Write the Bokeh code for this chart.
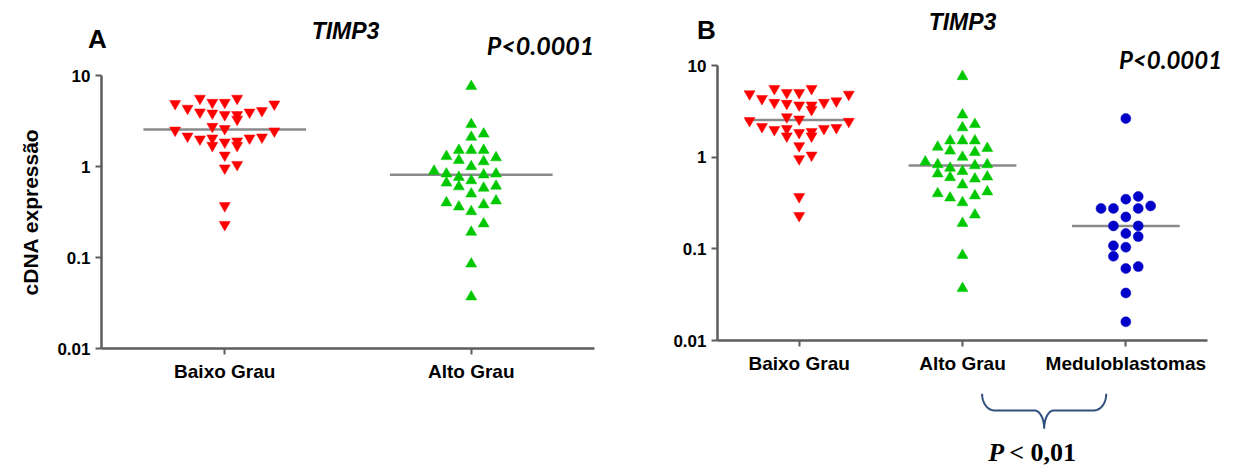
import numpy as np
from bokeh.plotting import figure
from bokeh.layouts import row, column
from bokeh.models import Range1d, FixedTicker, Label
from bokeh.embed import file_html
from bokeh.resources import INLINE

# ---- data -------------------------------------------------------------
groups = ["Baixo Grau", "Alto Grau", "Meduloblastomas"]

baixo_grau = [4.9, 4.35, 5.6, 5.05, 5.05, 5.6, 4.85,
              3.95, 3.85, 3.7, 3.7, 3.3, 3.95, 4.1,
              2.75, 2.6, 2.5, 2.45,
              2.15, 2.0, 2.05, 1.7, 1.85, 1.9, 1.7, 2.05, 2.1,
              1.33, 0.96, 1.05, 0.37, 0.23]
baixo_slot = [-4, -3, -2, -1, 0, 1, 4,
              -2, -1, 0, 1, 1, 2, 3,
              -1, 0, -4, 4,
              -3, -2, -1, -1, 0, 1, 1, 2, 3,
              0, 0, 1, 0, 0]

alto_grau = [7.6, 2.9, 2.1, 2.28,
             1.29, 1.51, 1.51, 1.51, 1.25,
             1.17, 1.13, 1.0, 0.89,
             0.83, 0.76, 0.81, 0.83,
             0.66, 0.6, 0.7, 0.58, 0.61, 0.5,
             0.4, 0.36, 0.32, 0.38, 0.42,
             0.235, 0.19, 0.085, 0.037]
alto_slot = [0, 0, 0, 1,
             -2, -1, 0, 1, 2,
             -1, 1, 0, -3,
             -2, -1, 1, 2,
             -2, -1, 0, 1, 2, 0,
             -2, -1, 0, 1, 2,
             1, 0, 0, 0]

meduloblastomas = [2.64, 0.348, 0.373, 0.276, 0.276, 0.276, 0.294, 0.223,
                   0.178, 0.178, 0.147, 0.136, 0.108, 0.104, 0.083,
                   0.061, 0.064, 0.033, 0.016]
medulo_slot = [0, 0, 1, -2, -1, 1, 2, 0,
               -1, 1, 0, 1, -1, 0, -1,
               0, 1, 0, 0]

medians = [2.55, 0.81, 0.178]

y_ticks = [0.01, 0.1, 1, 10]
y_tick_labels = ["0.01", "0.1", "1", "10"]
gene = "TIMP3"
p_text = "P<0.0001"

# ---- style ------------------------------------------------------------
SANS = "Liberation Sans"
AXIS_COLOR = "#5c5c5c"
MEDIAN_COLOR = "#8a8a8a"
series_style = [
    dict(marker="inverted_triangle", color="#ff0000", size=11),
    dict(marker="triangle", color="#00c800", size=11),
    dict(marker="circle", color="#0000c8", size=10),
]
SWARM_PX = 12.4      # horizontal spacing between swarm columns, pixels
HALF_MEDIAN = 0.33   # half length of the median bar, category widths
DECADE_PX = 91.5     # pixels per decade on the log axis

series = [(baixo_grau, baixo_slot), (alto_grau, alto_slot),
          (meduloblastomas, medulo_slot)]


def blank_figure(width, height, **kw):
    p = figure(width=width, height=height,
               x_axis_location=None, y_axis_location=None,
               output_backend="svg", toolbar_location=None,
               min_border_left=0, min_border_right=0,
               min_border_top=0, min_border_bottom=0, **kw)
    p.grid.visible = False
    p.outline_line_color = None
    p.border_fill_color = "white"
    p.background_fill_color = "white"
    return p


def make_panel(n, width, height, left, right, top, bottom,
               cat_px, extra_right_px, extra_top_px, show_ylabel):
    """Scatter panel; the frame may extend past the data area on the
    right/top, the axes are bounded to the data area."""
    x_end = n + extra_right_px / cat_px
    y_end = 10 ** (1 + extra_top_px / DECADE_PX)
    p = figure(width=width, height=height,
               x_range=Range1d(0, x_end), y_range=Range1d(0.01, y_end),
               y_axis_type="log", output_backend="svg",
               toolbar_location=None,
               min_border_left=left, min_border_right=right,
               min_border_top=top, min_border_bottom=bottom)
    p.grid.visible = False
    p.outline_line_color = None
    p.background_fill_color = "white"
    p.border_fill_color = "white"

    step = SWARM_PX / cat_px
    for i in range(n):
        vals, slots = series[i]
        cx = i + 0.5
        p.segment(x0=[cx - HALF_MEDIAN], x1=[cx + HALF_MEDIAN],
                  y0=[medians[i]], y1=[medians[i]],
                  line_color=MEDIAN_COLOR, line_width=2.5)
        st = series_style[i]
        xs = [cx + s * step for s in slots]
        p.scatter(xs, vals, marker=st["marker"], size=st["size"],
                  fill_color=st["color"], line_color=st["color"],
                  line_width=0.5)

    p.xaxis.bounds = (0, n)
    p.yaxis.bounds = (0.01, 10)
    p.xaxis.ticker = FixedTicker(ticks=[i + 0.5 for i in range(n)])
    p.xaxis.major_label_overrides = {i + 0.5: g for i, g in enumerate(groups[:n])}
    p.yaxis.ticker = FixedTicker(ticks=y_ticks)
    p.yaxis.major_label_overrides = dict(zip(y_ticks, y_tick_labels))
    for ax in (p.xaxis, p.yaxis):
        ax.axis_line_color = AXIS_COLOR
        ax.axis_line_width = 2.5
        ax.major_tick_line_color = AXIS_COLOR
        ax.major_tick_line_width = 2
        ax.major_tick_out = 6
        ax.major_tick_in = 0
        ax.minor_tick_line_color = None
        ax.major_label_text_font = SANS
        ax.major_label_text_font_style = "bold"
        ax.major_label_text_color = "black"
    p.xaxis.major_label_text_font_size = "19px"
    p.yaxis.major_label_text_font_size = "17px"
    p.xaxis.major_label_standoff = 6
    p.yaxis.major_label_standoff = 5
    if show_ylabel:
        p.yaxis.axis_label = "cDNA expressão"
        p.yaxis.axis_label_text_font = SANS
        p.yaxis.axis_label_text_font_style = "bold"
        p.yaxis.axis_label_text_font_size = "21px"
        p.yaxis.axis_label_text_color = "black"
        p.yaxis.axis_label_standoff = 12
    return p


def text(p, x, y, s, size, style, font=SANS, align="center", **kw):
    p.add_layout(Label(x=x, y=y, text=s, text_font=font,
                       text_font_size=size, text_font_style=style,
                       text_color="black", text_align=align,
                       text_baseline="middle", **kw))


# ---- panel A ----------------------------------------------------------
head_a = blank_figure(620, 60, x_range=Range1d(0, 620), y_range=Range1d(60, 0))
text(head_a, 97, 38, "A", "26px", "bold")
text(head_a, 345, 30, gene, "23px", "bold italic")
text(head_a, 540, 44, p_text, "25px", "bold italic", font="Lato")

pa = make_panel(2, 620, 408, 101, 26, 15, 120,
                cat_px=493 / 2, extra_right_px=0, extra_top_px=0,
                show_ylabel=True)

# ---- panel B ----------------------------------------------------------
HEAD_B = 44
head_b = blank_figure(617, HEAD_B, x_range=Range1d(0, 617),
                      y_range=Range1d(HEAD_B, 0))
text(head_b, 86, 29, "B", "26px", "bold")
text(head_b, 342, 21, gene, "23px", "bold italic")

cat_px_b = 490 / 3
pb = make_panel(3, 617, 385 - HEAD_B, 97, 0, 0, 45,
                cat_px=cat_px_b, extra_right_px=30, extra_top_px=65 - HEAD_B,
                show_ylabel=False)
text(pb, 3, 10, p_text, "24px", "bold italic", font="Lato",
     x_offset=-37, y_offset=6)

# ---- comparison brace under panel B ------------------------------------
pc = figure(width=617, height=83, x_range=pb.x_range, y_range=Range1d(0, 1),
            x_axis_location=None, y_axis_location=None,
            output_backend="svg", toolbar_location=None,
            min_border_left=97, min_border_right=0,
            min_border_top=0, min_border_bottom=0)
pc.grid.visible = False
pc.outline_line_color = None
pc.border_fill_color = "white"


def brace_path(x0, x1, y_top, y_mid, y_tip, rx, rx_tip):
    xm = 0.5 * (x0 + x1)
    t = np.linspace(np.pi, 1.5 * np.pi, 20)
    lx = x0 + rx + rx * np.cos(t)
    ly = y_top + (y_top - y_mid) * np.sin(t)
    t2 = np.linspace(0.5 * np.pi, 0.0, 20)
    tx = xm - rx_tip + rx_tip * np.cos(t2)
    ty = y_tip + (y_mid - y_tip) * np.sin(t2)
    left_x = np.concatenate([lx, tx])
    left_y = np.concatenate([ly, ty])
    xs = np.concatenate([left_x, (2 * xm - left_x)[::-1]])
    ys = np.concatenate([left_y, left_y[::-1]])
    return xs, ys


bx, by = brace_path(1.5 + 0.12, 2.5 - 0.12, 0.90, 0.70, 0.48, 0.075, 0.06)
pc.line(bx, by, line_color="#2f4f7f", line_width=2)

text(pc, 2.0, 0.19, "P", "26px", "bold italic", font="Liberation Serif",
     align="left", x_offset=-56)
text(pc, 2.0, 0.19, "< 0,01", "26px", "bold", font="Liberation Serif",
     align="left", x_offset=-35)

# headers are wrapped in their own rows so their frames are not aligned
# with the panels below them
layout = row(column(row(head_a), pa), column(row(head_b), pb, pc))

with open("out.html", "w") as f:
    f.write(file_html(layout, INLINE))
